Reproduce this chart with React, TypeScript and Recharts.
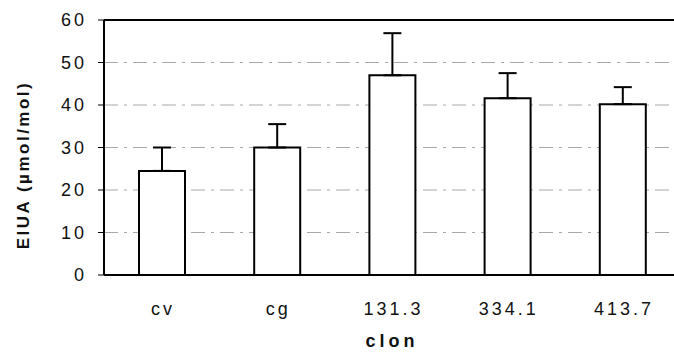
import React from 'react'
import { BarChart, Bar, XAxis, YAxis, CartesianGrid, ErrorBar, ReferenceLine, Label } from 'recharts'

const clones = ['cv', 'cg', '131.3', '334.1', '413.7']
const eiua = [24.5, 30, 47, 41.6, 40.2]
const errUp = [5.5, 5.5, 9.9, 5.9, 4.0]
const yTicks = [0, 10, 20, 30, 40, 50, 60]

const data = clones.map((c, i) => ({ clon: c, eiua: eiua[i], err: [0, errUp[i]] }))

const font = '"Liberation Sans", Arial, Helvetica, sans-serif'

const YTitle = () => (
  <text
    transform="translate(29,165) rotate(-90)"
    textAnchor="middle"
    fontFamily={font}
    fontSize={17}
    fontWeight="bold"
    letterSpacing={2.5}
    fill="#111"
  >
    EIUA (µmol/mol)
  </text>
)

const App: React.FC = () => {
  return (
    <div style={{ position: 'absolute', left: 0, top: 0, width: 674, height: 361, overflow: 'hidden', background: '#fff' }}>
      <BarChart width={680} height={361} data={data} margin={{ top: 20, right: 0, bottom: 0, left: 0 }}>
        <CartesianGrid vertical={false} stroke="#a8a8a8" strokeDasharray="14 6 3 6" />
        <XAxis
          dataKey="clon"
          height={86}
          axisLine={{ stroke: '#000', strokeWidth: 2 }}
          tickLine={false}
          tickMargin={21}
          tick={{ fontSize: 18, fill: '#111', fontFamily: font, letterSpacing: 3, dx: 1.5 }}
        >
          <Label
            value="clon"
            position="insideBottom"
            offset={14}
            style={{ fontSize: 18, fontWeight: 'bold', fill: '#111', fontFamily: font, letterSpacing: 4 }}
          />
        </XAxis>
        <YAxis
          width={104}
          domain={[0, 60]}
          ticks={yTicks}
          interval={0}
          axisLine={{ stroke: '#000', strokeWidth: 2 }}
          tickLine={{ stroke: '#000', strokeWidth: 1 }}
          tickSize={6}
          tickMargin={11}
          tick={{ fontSize: 18, fill: '#111', fontFamily: font, letterSpacing: 3 }}
          label={<YTitle />}
        />
        <ReferenceLine y={60} stroke="#000" strokeWidth={2} />
        <Bar dataKey="eiua" barSize={46} fill="#fff" stroke="#000" strokeWidth={2} isAnimationActive={false}>
          <ErrorBar dataKey="err" direction="y" width={9} stroke="#000" strokeWidth={2} isAnimationActive={false} />
        </Bar>
      </BarChart>
    </div>
  )
}

export default App
